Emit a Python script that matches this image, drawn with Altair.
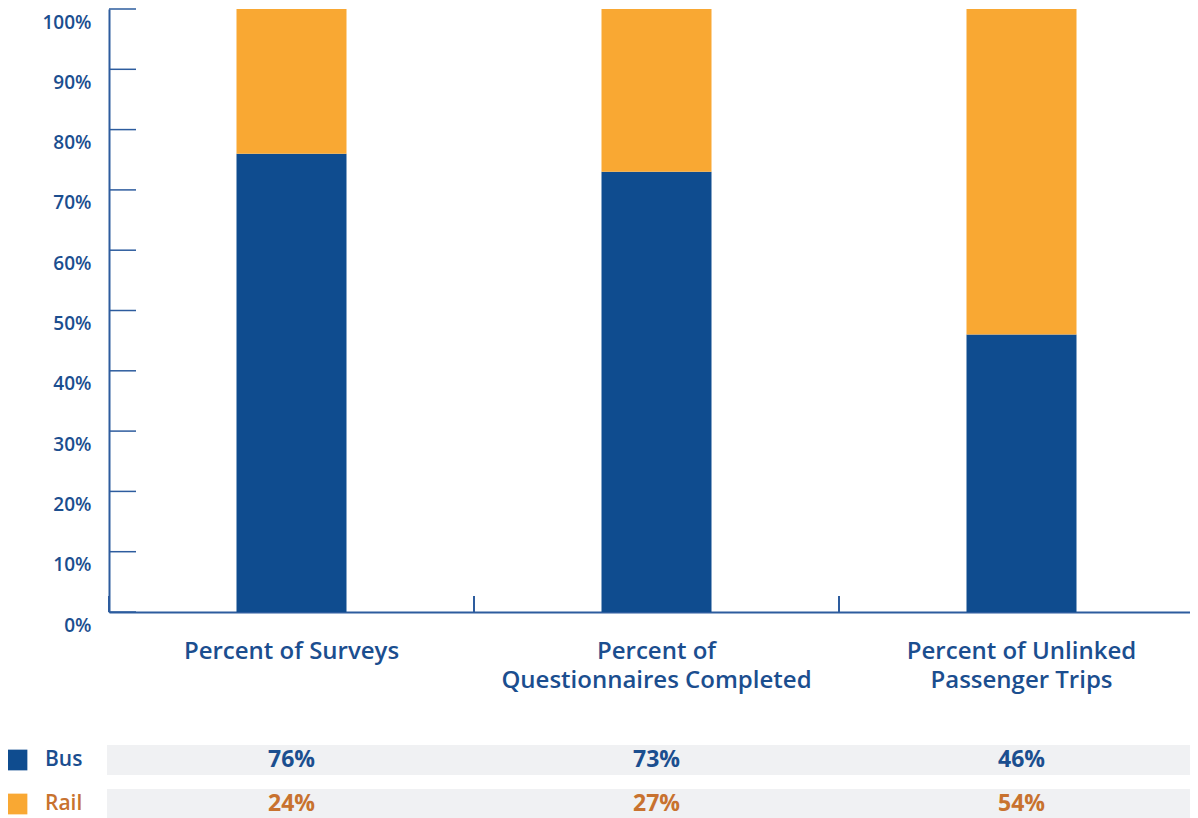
import altair as alt
import pandas as pd

# ---- data ----
categories = ["Surveys", "Questionnaires", "Trips"]
category_labels = [
    "Percent of Surveys",
    "Percent of\nQuestionnaires Completed",
    "Percent of Unlinked\nPassenger Trips",
]
series = ["Bus", "Rail"]
bus_values = [76, 73, 46]
rail_values = [24, 27, 54]
y_ticks = [0, 10, 20, 30, 40, 50, 60, 70, 80, 90, 100]

# ---- styles ----
BLUE = "#0F4C8F"
ORANGE = "#F9A833"
TEXT_BLUE = "#1B4E8F"
TEXT_ORANGE = "#C8722F"
AXIS = "#2D5C9E"
GRAY = "#F0F1F3"
FONT = "Open Sans"

W, H = 1081, 603
XR = 1095

rows = []
for c, b, r in zip(categories, bus_values, rail_values):
    rows.append({"cat": c, "series": "Bus", "order": 0, "value": b})
    rows.append({"cat": c, "series": "Rail", "order": 1, "value": r})
df = pd.DataFrame(rows)
df["label"] = df["value"].astype(str) + "%"

cat_df = pd.DataFrame({"cat": categories, "label": category_labels})
tick_df = pd.DataFrame({"tick": y_ticks})
series_df = pd.DataFrame({"series": series})

x_scale = alt.Scale(domain=categories, range=[0, XR], paddingInner=0, paddingOuter=0)
x_axis = alt.Axis(title=None, labels=False, ticks=False, domain=True,
                  domainColor=AXIS, domainWidth=2, grid=False)
x_enc = alt.X("cat:N", sort=categories, scale=x_scale, axis=x_axis)

y_scale = alt.Scale(domain=[0, 100], nice=False)
y_axis = alt.Axis(title=None, values=y_ticks, labelExpr="datum.value + '%'",
                  ticks=False, tickSize=0, labelPadding=18, labelOffset=13,
                  labelFont=FONT, labelFontSize=19, labelFontWeight=600,
                  labelColor=TEXT_BLUE, domainColor=AXIS, domainWidth=2, grid=False)

color_scale = alt.Scale(domain=series, range=[BLUE, ORANGE])
text_color = alt.condition(alt.datum.series == "Bus", alt.value(TEXT_BLUE), alt.value(TEXT_ORANGE))

bars = alt.Chart(df).mark_bar(size=110).encode(
    x=x_enc,
    y=alt.Y("value:Q", stack="zero", scale=y_scale, axis=y_axis),
    color=alt.Color("series:N", scale=color_scale, legend=None),
    order=alt.Order("order:Q"),
)

yticks = alt.Chart(tick_df).mark_rule(color=AXIS, strokeWidth=1.5).encode(
    y=alt.Y("tick:Q", scale=y_scale, axis=y_axis),
    x=alt.value(0),
    x2=alt.value(27),
)

xticks = alt.Chart(cat_df).mark_rule(color=AXIS, strokeWidth=2).encode(
    x=alt.X("cat:N", sort=categories, scale=x_scale, axis=x_axis, bandPosition=0),
    y=alt.value(H - 16),
    y2=alt.value(H),
)

cat_labels = alt.Chart(cat_df).mark_text(
    lineBreak="\n", font=FONT, fontSize=24, fontWeight=600,
    color=TEXT_BLUE, baseline="alphabetic", lineHeight=29,
).encode(x=x_enc, y=alt.value(650), text="label:N")

main = alt.layer(bars, yticks, xticks, cat_labels)

table_y = alt.Y("series:N", sort=series,
                scale=alt.Scale(domain=series, range=[736, 810],
                                paddingInner=14 / 44, paddingOuter=0),
                axis=None)

row_bg = alt.Chart(series_df).mark_rect(color=GRAY).encode(
    y=table_y, x=alt.value(-2), x2=alt.value(XR)
)
row_vals = alt.Chart(df).mark_text(font=FONT, fontSize=23, fontWeight="bold").encode(
    x=x_enc, y=table_y, text="label:N", color=text_color
)
legend_sq = alt.Chart(series_df).mark_square(size=430, opacity=1, filled=True).encode(
    y=table_y, x=alt.value(-92),
    color=alt.Color("series:N", scale=color_scale, legend=None),
)
legend_txt = alt.Chart(series_df).mark_text(
    align="left", font=FONT, fontSize=21, fontWeight=600
).encode(y=table_y, x=alt.value(-64), text="series:N", color=text_color)

table = alt.layer(row_bg, row_vals, legend_sq, legend_txt)

chart = alt.layer(main, table).resolve_scale(y="independent").properties(
    width=W, height=H,
    autosize=alt.AutoSizeParams(type="none"),
    padding={"left": 101, "top": 1, "right": 0, "bottom": 208},
).configure_view(stroke=None)

chart.save("out.html", embed_options={"renderer": "svg", "actions": False})
